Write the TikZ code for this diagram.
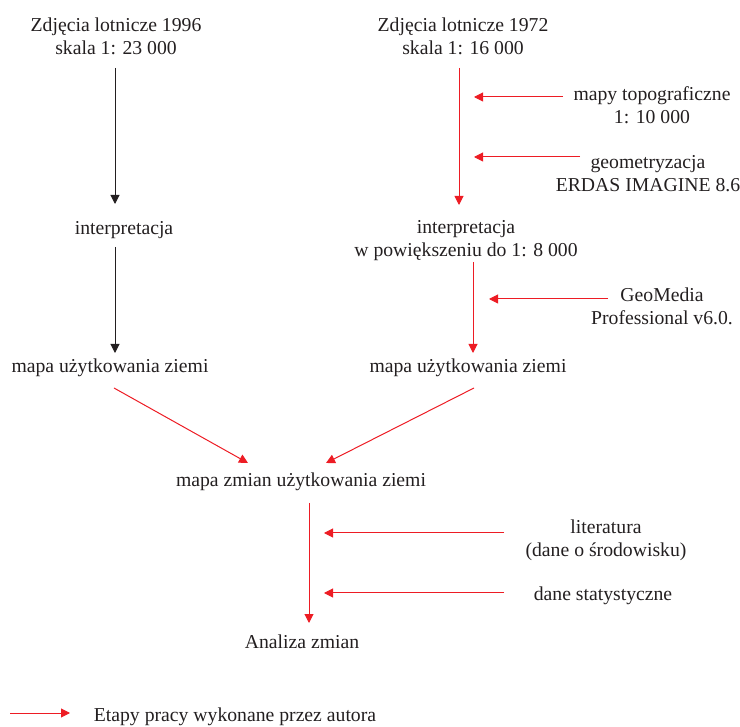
\documentclass[tikz,border=0pt]{standalone}
\usepackage{fontspec}
\setmainfont{Liberation Serif}
\usetikzlibrary{arrows.meta}
\definecolor{arrowred}{RGB}{237,28,36}
\definecolor{textgray}{RGB}{35,31,32}
\tikzset{
    flow-text/.style = {align=center, inner sep=0pt, text=textgray, font=\fontsize{19.7}{23}\selectfont},
    flow-arrow/.style = {draw=textgray, line width=1pt, -{Triangle[length=9pt,width=9pt]}},
    author-arrow/.style = {flow-arrow, draw=arrowred},
}

\begin{document}
\begin{tikzpicture}[x=1pt,y=-1pt]
\useasboundingbox (0,0) rectangle (740,727);
% sources
\node[flow-text] (photo96) at (116,36) {Zdjęcia lotnicze 1996\\skala 1: 23 000};
\node[flow-text] (photo72) at (463,36) {Zdjęcia lotnicze 1972\\skala 1: 16 000};
% steps
\node[flow-text] (interp96) at (124,230) {interpretacja};
\node[flow-text] (interp72) at (466,241) {interpretacja\\w powiększeniu do 1: 8 000};
\node[flow-text] (map96) at (110,368) {mapa użytkowania ziemi};
\node[flow-text] (map72) at (468,368) {mapa użytkowania ziemi};
\node[flow-text] (change) at (301,482) {mapa zmian użytkowania ziemi};
\node[flow-text] (analysis) at (302,642) {Analiza zmian};
% side inputs
\node[flow-text] (topo) at (652,105) {mapy topograficzne\\1: 10 000};
\node[flow-text] (erdas) at (648,174) {geometryzacja\\ERDAS IMAGINE 8.6};
\node[flow-text] (geomedia) at (662,306) {GeoMedia\\Professional v6.0.};
\node[flow-text] (lit) at (606,540) {literatura\\(dane o środowisku)};
\node[flow-text] (stats) at (603,596) {dane statystyczne};
% legend
\node[flow-text] (legend) at (235,717) {Etapy pracy wykonane przez autora};

% left column
\draw[flow-arrow] ([shift={(-1,32)}]photo96.center) -- ([shift={(-9,-26)}]interp96.center);
\draw[flow-arrow] ([shift={(-9,17)}]interp96.center) -- ([shift={(5,-15)}]map96.center);
% right column
\draw[author-arrow] ([shift={(-4,32)}]photo72.center) -- ([shift={(-7,-36)}]interp72.center);
\draw[author-arrow] ([shift={(7,21)}]interp72.center) -- ([shift={(5,-15)}]map72.center);
\draw[author-arrow] ([shift={(-89,-8)}]topo.center) -- ([shift={(11,61)}]photo72.center);
\draw[author-arrow] ([shift={(-68,-17)}]erdas.center) -- ([shift={(11,121)}]photo72.center);
\draw[author-arrow] ([shift={(-54,-7)}]geomedia.center) -- ([shift={(23,58)}]interp72.center);
% merge
\draw[author-arrow] ([shift={(4,20)}]map96.center) -- ([shift={(-53,-19)}]change.center);
\draw[author-arrow] ([shift={(6,20)}]map72.center) -- ([shift={(25,-19)}]change.center);
% analysis
\draw[author-arrow] ([shift={(8,21)}]change.center) -- ([shift={(7,-19)}]analysis.center);
\draw[author-arrow] ([shift={(-102,-7)}]lit.center) -- ([shift={(22,-109)}]analysis.center);
\draw[author-arrow] ([shift={(-99,-3)}]stats.center) -- ([shift={(22,-49)}]analysis.center);
% legend arrow
\draw[author-arrow] ([shift={(-225,-4)}]legend.center) -- ([shift={(-165,-4)}]legend.center);
\end{tikzpicture}
\end{document}
